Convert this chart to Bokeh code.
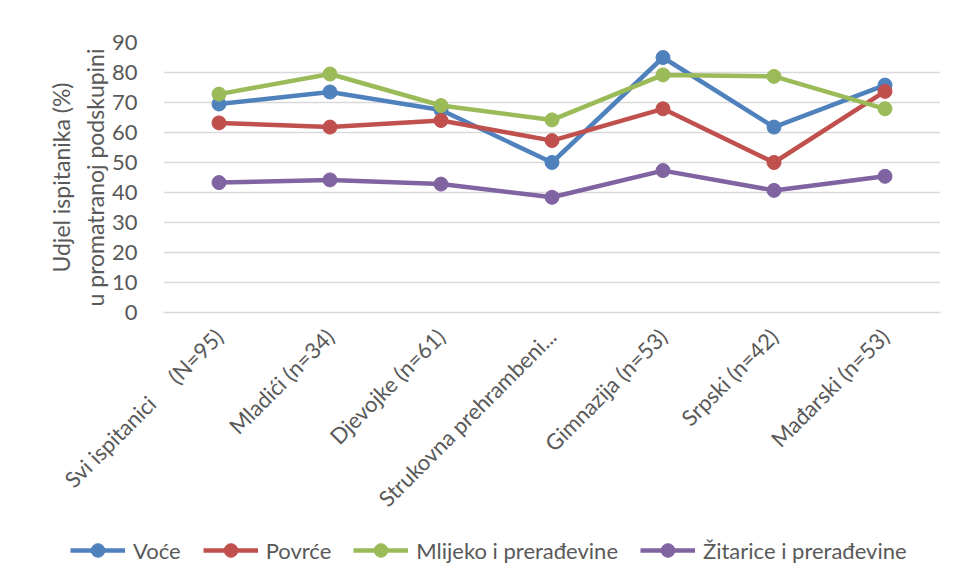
import math
from bokeh.plotting import figure
from bokeh.layouts import column
from bokeh.models import Range1d, FactorRange, Legend, LegendItem, FixedTicker
from bokeh.embed import file_html
from bokeh.resources import INLINE

categories = ["Svi ispitanici \u00a0\u00a0\u00a0\u00a0(N=95)", "Mladići (n=34)", "Djevojke (n=61)",
              "Strukovna prehrambeni...", "Gimnazija (n=53)", "Srpski (n=42)", "Mađarski (n=53)"]
voce = [69.5, 73.5, 67.5, 50.0, 85.0, 61.8, 75.8]
povrce = [63.2, 61.8, 64.0, 57.3, 67.9, 50.0, 73.7]
mlijeko = [72.8, 79.5, 69.0, 64.2, 79.2, 78.7, 67.9]
zitarice = [43.3, 44.2, 42.8, 38.4, 47.3, 40.7, 45.4]
series_names = ["Voće", "Povrće", "Mlijeko i prerađevine", "Žitarice i prerađevine"]
series_values = [voce, povrce, mlijeko, zitarice]
colors = ["#4f81bd", "#c0504d", "#9bbb59", "#8064a2"]
y_ticks = [0, 10, 20, 30, 40, 50, 60, 70, 80, 90]

FONT = "Lato"
TXT = "#595959"

p = figure(x_range=FactorRange(factors=categories), y_range=Range1d(0, 90),
           frame_width=777, frame_height=270,
           min_border_left=163, min_border_top=42, min_border_right=6, min_border_bottom=0,
           output_backend="svg", toolbar_location=None)
p.outline_line_color = None
p.background_fill_color = "white"
p.border_fill_color = "white"

p.xgrid.grid_line_color = None
p.ygrid.grid_line_color = "#d9d9d9"
p.ygrid.grid_line_width = 1.5
p.yaxis.ticker = FixedTicker(ticks=y_ticks)

p.yaxis.axis_line_color = None
p.yaxis.major_tick_line_color = None
p.yaxis.minor_tick_line_color = None
p.yaxis.major_label_text_font = FONT
p.yaxis.major_label_text_font_size = "22px"
p.yaxis.major_label_text_color = TXT
p.yaxis.major_label_standoff = 20
p.yaxis.axis_label = "Udjel ispitanika (%)\nu promatranoj podskupini"
p.yaxis.axis_label_text_font = FONT
p.yaxis.axis_label_text_font_size = "23px"
p.yaxis.axis_label_text_font_style = "normal"
p.yaxis.axis_label_text_color = TXT
p.yaxis.axis_label_standoff = 0

p.xaxis.axis_line_color = "#d9d9d9"
p.xaxis.axis_line_width = 1.5
p.xaxis.major_tick_line_color = None
p.xaxis.minor_tick_line_color = None
p.xaxis.major_label_orientation = math.pi / 4
p.xaxis.major_label_text_font = FONT
p.xaxis.major_label_text_font_size = "22px"
p.xaxis.major_label_text_color = TXT
p.xaxis.major_label_standoff = 14

for name, vals, col in zip(series_names, series_values, colors):
    p.line(categories, vals, line_color=col, line_width=4.5, line_join="round")
    p.scatter(categories, vals, size=14, fill_color=col, line_color=col)

# legend strip below the chart (its series renderers lie outside its visible y range)
leg = figure(x_range=FactorRange(factors=categories), y_range=Range1d(200, 201),
             frame_width=946, frame_height=52,
             min_border=0, x_axis_location=None, y_axis_location=None,
             output_backend="svg", toolbar_location=None)
leg.outline_line_color = None
leg.grid.grid_line_color = None
leg.border_fill_color = "white"
leg.background_fill_color = "white"
items = []
for name, vals, col in zip(series_names, series_values, colors):
    r1 = leg.line(categories, vals, line_color=col, line_width=4.5)
    r2 = leg.scatter(categories, vals, size=14, fill_color=col, line_color=col)
    items.append(LegendItem(label=name, renderers=[r1, r2]))
legend = Legend(items=items, orientation="horizontal", location=(70, 9),
                label_text_font=FONT, label_text_font_size="22px", label_text_color=TXT,
                glyph_width=55, glyph_height=34, spacing=22, label_standoff=8,
                border_line_color=None, background_fill_alpha=0, padding=0, margin=0)
leg.add_layout(legend)

open("out.html", "w").write(file_html(column(p, leg, spacing=0), INLINE))
